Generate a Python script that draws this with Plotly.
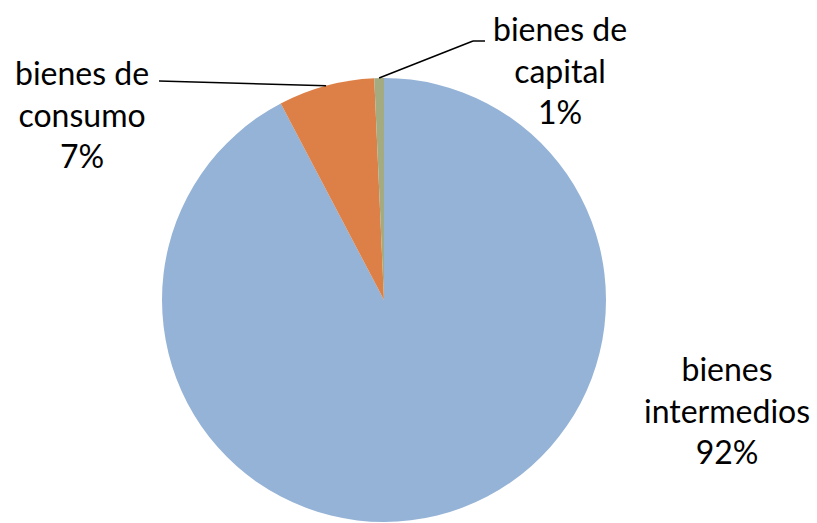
import math
import plotly.graph_objects as go

# Import composition by type of good
labels = ["bienes intermedios", "bienes de consumo", "bienes de capital"]
values = [92.3, 7.0, 0.7]
label_lines = ["bienes<br>intermedios", "bienes de<br>consumo", "bienes de<br>capital"]
colors = ["#95B3D6", "#DD8047", "#A5AB81"]

W, H = 817, 523
CX, CY, R = 384, 300, 222  # pie centre and radius in pixels

fig = go.Figure(go.Pie(
    labels=labels,
    values=values,
    sort=False,
    direction="clockwise",
    rotation=0,
    marker=dict(colors=colors, line=dict(width=0)),
    textinfo="none",
    hoverinfo="label+percent",
    domain=dict(x=[(CX - R) / W, (CX + R) / W], y=[(H - CY - R) / H, (H - CY + R) / H]),
    showlegend=False,
))

total = sum(values)


def px(x, y):
    return x / W, 1 - y / H


def edge_point(i):
    # mid-angle of slice i, measured clockwise from 12 o'clock
    start = sum(values[:i]) / total * 360
    mid = math.radians(start + values[i] / total * 180)
    return CX + R * math.sin(mid), CY - R * math.cos(mid)


font = dict(family="Lato, Noto Sans, sans-serif", size=32, color="#000000")

# label positions (pixel centre of text block) and leader-line elbows
label_pos = [(727, 410), (82, 114), (560, 70)]
leaders = [None, [(159, 81)], [(485, 41), (473, 41)]]

for i in range(len(labels)):
    pct = round(values[i] / total * 100)
    lx, ly = label_pos[i]
    ax, ay = px(lx, ly)
    fig.add_annotation(
        x=ax, y=ay, xref="paper", yref="paper",
        text=f"{label_lines[i]}<br>{pct}%",
        showarrow=False, font=font, align="center",
        xanchor="center", yanchor="middle",
    )
    if leaders[i]:
        pts = leaders[i] + [edge_point(i)]
        for (x0, y0), (x1, y1) in zip(pts[:-1], pts[1:]):
            p0, p1 = px(x0, y0), px(x1, y1)
            fig.add_shape(type="line", xref="paper", yref="paper",
                          x0=p0[0], y0=p0[1], x1=p1[0], y1=p1[1],
                          line=dict(color="#000000", width=1.5))

fig.update_layout(
    width=W, height=H,
    margin=dict(l=0, r=0, t=0, b=0),
    paper_bgcolor="#FFFFFF",
    plot_bgcolor="#FFFFFF",
)

fig.write_html("out.html")
